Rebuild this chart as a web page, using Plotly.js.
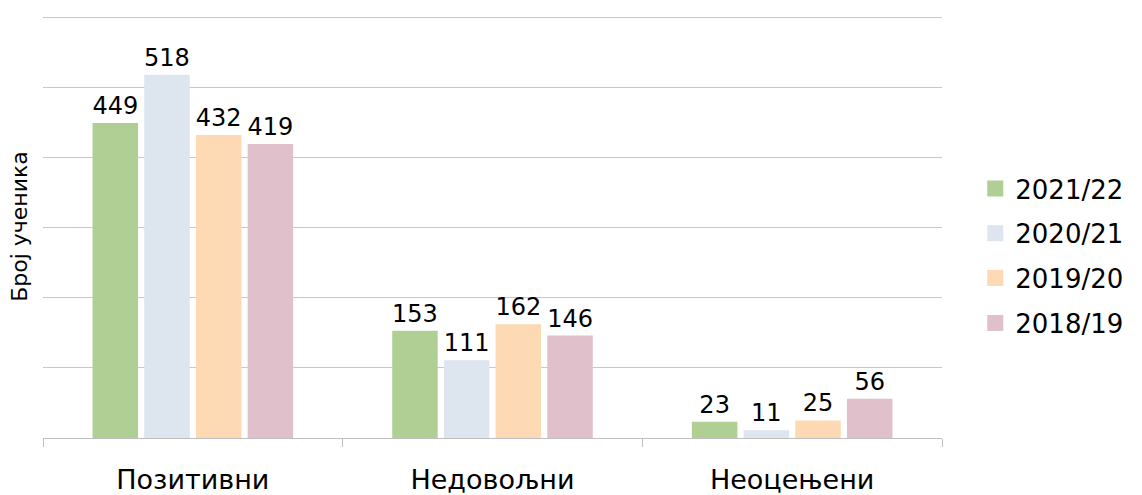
<!DOCTYPE html>
<html>
<head>
<meta charset="utf-8">
<script src="https://cdn.plot.ly/plotly-3.0.1.min.js"></script>
<style>html,body{margin:0;padding:0;background:#fff;}#chart{width:1142px;height:495px;}</style>
</head>
<body>
<div id="chart"></div>
<script>
const categories = ['Позитивни', 'Недовољни', 'Неоцењени'];
const seriesNames = ['2021/22', '2020/21', '2019/20', '2018/19'];
const values2021_22 = [449, 153, 23];
const values2020_21 = [518, 111, 11];
const values2019_20 = [432, 162, 25];
const values2018_19 = [419, 146, 56];
const seriesValues = [values2021_22, values2020_21, values2019_20, values2018_19];
const colors = ['#b0cf94', '#dde5ef', '#fddab3', '#dfc0cb'];
const yTitle = 'Број ученика';

const FONT = 'DejaVu Sans, Liberation Sans, Arial, sans-serif';

const traces = seriesNames.map((name, i) => ({
  type: 'bar',
  name: name,
  x: categories,
  y: seriesValues[i],
  text: seriesValues[i].map(String),
  textposition: 'outside',
  textfont: {family: FONT, size: 24, color: '#000'},
  cliponaxis: false,
  constraintext: 'none',
  marker: {color: colors[i], line: {width: 0}},
  legendgroup: 'g' + i,
  showlegend: false,
  hoverinfo: 'none'
}));

// legend-only proxies with larger square swatches
seriesNames.forEach((name, i) => {
  traces.push({
    type: 'scatter', mode: 'markers',
    name: name,
    x: [null], y: [null],
    marker: {symbol: 'square', size: 16, color: colors[i], line: {width: 0}},
    legendgroup: 'g' + i,
    showlegend: true,
    hoverinfo: 'none'
  });
});

const layout = {
  width: 1142, height: 495,
  margin: {l: 43, r: 200, t: 15, b: 57},
  paper_bgcolor: '#fff', plot_bgcolor: '#fff',
  font: {family: FONT, color: '#000'},
  barmode: 'group',
  bargap: 0.31,
  bargroupgap: 0.12,
  showlegend: true,
  legend: {
    x: 1.037, xanchor: 'left', y: 0.43, yanchor: 'middle',
    font: {family: FONT, size: 26, color: '#000'},
    tracegroupgap: 8,
    itemclick: false
  },
  xaxis: {
    type: 'category',
    showgrid: false,
    showline: true, linecolor: '#bfbfbf', linewidth: 1,
    ticks: 'outside', tickson: 'boundaries', ticklen: 8, tickcolor: '#bfbfbf',
    tickfont: {family: FONT, size: 27, color: '#000'},
    ticklabelstandoff: 18,
    zeroline: false,
    fixedrange: true
  },
  yaxis: {
    range: [0, 603], dtick: 100,
    showgrid: true, gridcolor: '#c8c8c8', gridwidth: 1,
    showticklabels: false, ticks: '',
    zeroline: false, showline: false,
    title: {text: yTitle, font: {family: FONT, size: 22, color: '#000'}, standoff: 8},
    fixedrange: true
  }
};

Plotly.newPlot('chart', traces, layout, {displayModeBar: false, staticPlot: true});
</script>
</body>
</html>
